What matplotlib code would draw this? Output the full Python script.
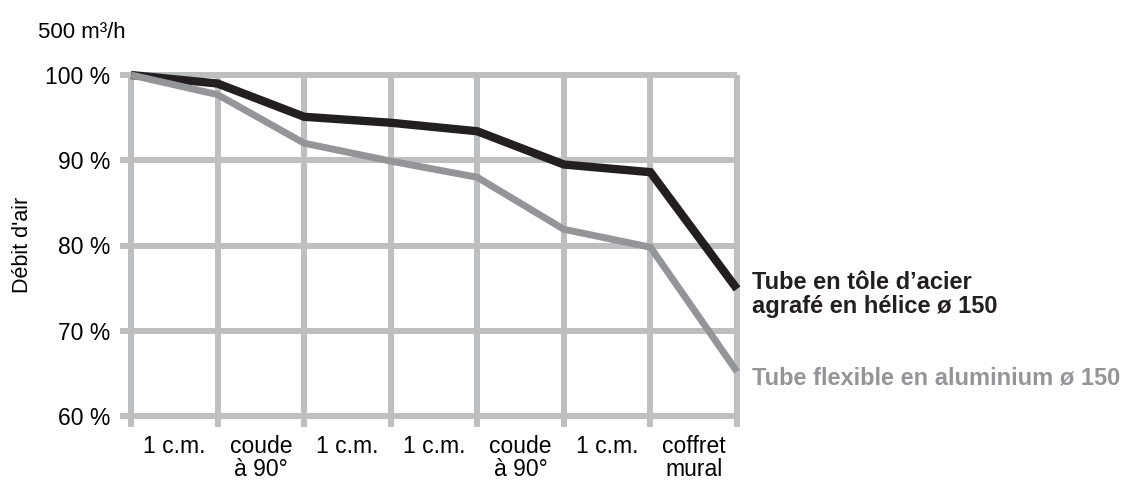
import numpy as np
from matplotlib import pyplot as plt

plt.rcParams["font.family"] = ["Liberation Sans", "DejaVu Sans"]

# duct sections along the run, 0 = start
steps = np.arange(8)
segment_labels = [
    "1 c.m.", "coude\nà 90°", "1 c.m.", "1 c.m.",
    "coude\nà 90°", "1 c.m.", "coffret\nmural",
]
steel = [100, 99.0, 95.1, 94.4, 93.4, 89.5, 88.6, 74.9]
flex = [100, 97.7, 92.0, 89.9, 88.0, 81.9, 79.8, 65.2]
y_ticks = [60, 70, 80, 90, 100]
y_tick_labels = ["60 %", "70 %", "80 %", "90 %", "100 %"]

GRID = "#bdbfc1"
DARK = "#231f20"
GREY = "#939598"

fig = plt.figure(figsize=(11.26, 4.82), dpi=100)
ax = fig.add_axes([131 / 1126, 1 - 416 / 482, (737 - 131) / 1126, (416 - 75) / 482])
ax.set_xlim(0, 7)
ax.set_ylim(60, 100)
for s in ax.spines.values():
    s.set_visible(False)

# grid with little tick stubs sticking out left and below
for y in y_ticks:
    ax.plot([-0.13, 7], [y, y], color=GRID, lw=4.3, solid_capstyle="butt",
            clip_on=False, zorder=1)
for x in steps:
    ax.plot([x, x], [58.7, 100], color=GRID, lw=4.3, solid_capstyle="butt",
            clip_on=False, zorder=1)

ax.plot(steps, steel, color=DARK, lw=6, solid_joinstyle="miter",
        solid_capstyle="butt", clip_on=False, zorder=3)
ax.plot(steps, flex, color=GREY, lw=5, solid_joinstyle="miter",
        solid_capstyle="butt", clip_on=False, zorder=4)

ax.set_yticks(y_ticks, y_tick_labels)
ax.set_xticks(steps[:-1] + 0.5, segment_labels)
ax.tick_params(length=0, labelsize=16.5)
ax.tick_params(axis="y", pad=15)
ax.tick_params(axis="x", pad=14)
for lab in ax.get_xticklabels():
    lab.set_linespacing(0.98)

ax.text(7.17, steel[-1] - 0.6, "Tube en tôle d’acier\nagrafé en hélice ø 150",
        color=DARK, fontsize=17, fontweight="bold", va="center", ha="left",
        linespacing=1.05)
ax.text(7.17, flex[-1] - 0.8, "Tube flexible en aluminium ø 150",
        color=GREY, fontsize=17, fontweight="bold", va="center", ha="left")

fig.text(22 / 1126, 1 - 245 / 482, "Débit d'air", rotation=90,
         fontsize=15.5, va="center", ha="center")
fig.text(38 / 1126, 1 - 32 / 482, "500 m³/h", fontsize=16,
         va="center", ha="left")

fig.savefig("out.png", dpi=100)
